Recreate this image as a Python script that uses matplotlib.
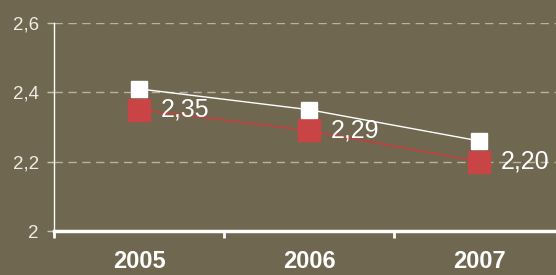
import matplotlib
matplotlib.use("Agg")
import matplotlib.pyplot as plt

years = ["2005", "2006", "2007"]
series_white = [2.41, 2.35, 2.26]
series_red = [2.35, 2.29, 2.20]
yticks = [2.0, 2.2, 2.4, 2.6]
ytick_labels = ["2", "2,2", "2,4", "2,6"]

bg = "#706750"
plt.rcParams['font.family'] = ['Liberation Sans', 'DejaVu Sans']

fig = plt.figure(figsize=(5.56, 2.75), dpi=100, facecolor=bg)
ax = fig.add_axes([54/556, 44/275, 510/556, 208/275])
ax.set_facecolor(bg)

x = list(range(len(years)))
ax.plot(x, series_white, color="white", lw=1, marker="s", ms=11, mfc="white", mec="white", zorder=4)
ax.plot(x, series_red, color="#D0393C", lw=1, marker="s", ms=15.5, mfc="#C94444", mec="#C94444", zorder=3)
for xi, v in zip(x, series_red):
    ax.annotate(f"{v:.2f}".replace(".", ","), (xi, v), xytext=(16, 0), textcoords="offset points",
                va="center", ha="left", color="white", fontsize=18, zorder=5)

ax.set_xlim(-0.5, 2.5)
ax.set_ylim(2.0, 2.6)
ax.set_yticks(yticks)
ax.set_yticklabels(ytick_labels)
ax.set_xticks([-0.5, 0.5, 1.5])
ax.set_xticklabels([])
ax.set_xticks(x, minor=True)
ax.set_xticklabels(years, minor=True, fontweight="bold", fontsize=17, color="white")
ax.tick_params(axis="x", which="minor", length=0, pad=14)
ax.tick_params(axis="x", which="major", length=5, width=2, color="white")
ax.tick_params(axis="y", length=5, width=1, color="#C8C3B5", labelsize=13.5, labelcolor="#EEEBE5", pad=6)

for v in yticks[1:]:
    ax.axhline(v, color="#B8B2A2", lw=1, ls=(0, (6, 4)), zorder=1)

for s in ["top", "right"]:
    ax.spines[s].set_visible(False)
ax.spines["left"].set_color("white")
ax.spines["left"].set_linewidth(1)
ax.spines["bottom"].set_color("white")
ax.spines["bottom"].set_linewidth(2.5)
ax.spines["bottom"].set_zorder(6)

fig.savefig("out.png", dpi=100, facecolor=bg)
